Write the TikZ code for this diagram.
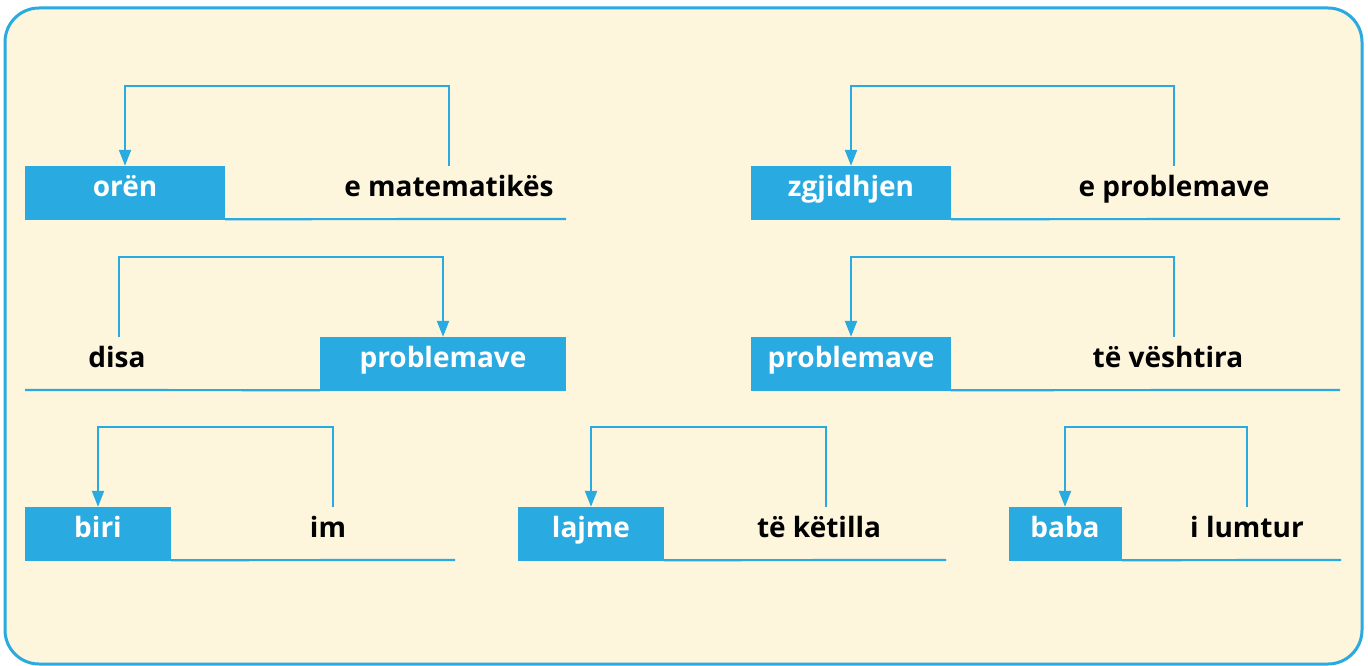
\documentclass[tikz,border=0pt]{standalone}
\usepackage{fontspec}
\setmainfont{Open Sans}
\usetikzlibrary{arrows.meta}
\definecolor{skyblue}{RGB}{41,170,225}
\definecolor{cream}{RGB}{253,245,220}
\tikzset{
  word/.style={inner sep=0pt, minimum height=54pt, text height=20pt, text depth=13pt,
    font=\fontsize{28}{32}\selectfont\bfseries},
  wordbox/.style={word, fill=skyblue, text=white},
  link/.style={draw=skyblue, line width=2.2pt, -{Triangle[length=16pt,width=12pt]}},
  baseline/.style={draw=skyblue, line width=2.2pt}
}
\begin{document}
\begin{tikzpicture}[x=1pt,y=-1pt]
    \useasboundingbox (0,0) rectangle (1368,666);
    \draw[skyblue, line width=3pt, fill=cream, rounded corners=34pt] (5,8) rectangle (1362,664);

    % row 1
    \node[wordbox, minimum width=200pt] (oren) at (125,193) {orën};
    \node[word] (matem) at (449,193) {e matematikës};
    \coordinate (e1) at (566,219);
    \draw[baseline] ([yshift=1pt]oren.south east) -- (e1);
    \draw[link] (matem.north) -- ++(0,-80) -| (oren.north);

    \node[wordbox, minimum width=200pt] (zgj) at (851,193) {zgjidhjen};
    \node[word] (eprob) at (1174,193) {e problemave};
    \coordinate (e2) at (1340,219);
    \draw[baseline] ([yshift=1pt]zgj.south east) -- (e2);
    \draw[link] (eprob.north) -- ++(0,-80) -| (zgj.north);

    % row 2
    \node[word] (disa) at (117,364) {disa};
    \node[wordbox, minimum width=246pt] (prob1) at (443,364) {problemave};
    \coordinate (s3) at (25,390);
    \draw[baseline] (s3) -- ([yshift=1pt]prob1.south west);
    \draw[link] ([xshift=2pt]disa.north) -- ++(0,-80) -| (prob1.north);

    \node[wordbox, minimum width=200pt] (prob2) at (851,364) {problemave};
    \node[word] (veshtira) at (1168,364) {të vështira};
    \coordinate (e4) at (1340,390);
    \draw[baseline] ([yshift=1pt]prob2.south east) -- (e4);
    \draw[link] ([xshift=6pt]veshtira.north) -- ++(0,-80) -| (prob2.north);

    % row 3
    \node[wordbox, minimum width=146pt] (biri) at (98,534) {biri};
    \node[word] (im) at (328,534) {im};
    \coordinate (e5) at (455,560);
    \draw[baseline] ([yshift=1pt]biri.south east) -- (e5);
    \draw[link] ([xshift=5pt]im.north) -- ++(0,-80) -| (biri.north);

    \node[wordbox, minimum width=146pt] (lajme) at (591,534) {lajme};
    \node[word] (ketilla) at (819,534) {të këtilla};
    \coordinate (e6) at (946,560);
    \draw[baseline] ([yshift=1pt]lajme.south east) -- (e6);
    \draw[link] ([xshift=7pt]ketilla.north) -- ++(0,-80) -| (lajme.north);

    \node[wordbox, minimum width=113pt] (baba) at (1065,534) {baba};
    \node[word] (lumtur) at (1247,534) {i lumtur};
    \coordinate (e7) at (1341,560);
    \draw[baseline] ([yshift=1pt]baba.south east) -- (e7);
    \draw[link] (lumtur.north) -- ++(0,-80) -| (baba.north);
\end{tikzpicture}
\end{document}
